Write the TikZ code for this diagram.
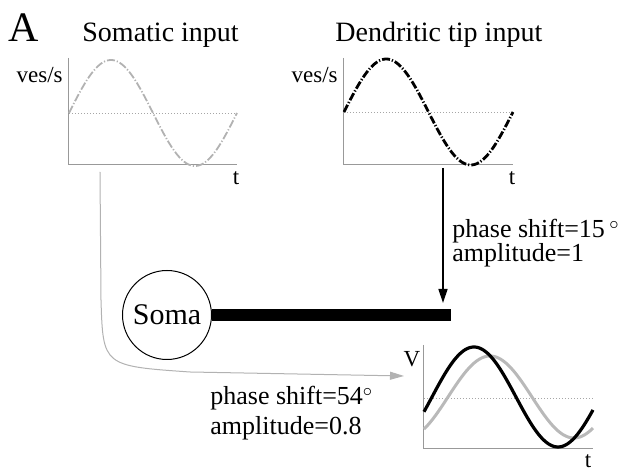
\documentclass[tikz,border=0pt]{standalone}
\usepackage{fontspec}
\setmainfont{Liberation Serif}
\usetikzlibrary{arrows.meta}

\begin{document}
\begin{tikzpicture}[x=0.5pt,y=-0.5pt,
        axisline/.style={draw=gray!80,line width=0.5pt},
        midline/.style={draw=gray!70,line width=0.4pt,dash pattern=on 0.5pt off 1pt},
        somawave/.style={draw=gray!60,line width=0.9pt,dash pattern=on 4pt off 1pt on 0.6pt off 1pt},
        tipwave/.style={draw=black,line width=1.4pt,dash pattern=on 4pt off 1pt on 0.6pt off 1pt},
        axlbl/.style={font=\fontsize{11.5}{13}\selectfont,inner sep=0pt},
        title/.style={font=\fontsize{14}{16}\selectfont,inner sep=0pt,anchor=base west},
        shiftlbl/.style={font=\fontsize{13}{15}\selectfont,inner sep=0pt,anchor=base west}]
    \useasboundingbox (0,0) rectangle (629,475);
    \node[anchor=base west,font=\fontsize{21}{24}\selectfont,inner sep=0pt] (panel) at (8,42) {A};
    \node[title] (somatitle) at (82,42) {Somatic input};
    \node[title] (tiptitle) at (335,42) {Dendritic tip input};

    % input rates
    \foreach \nm/\ox/\w/\y/\sty in {soma/69/168/113/somawave, tip/344/169/112/tipwave} {
            \draw[axisline] (\ox,58) -- (\ox,165) -- ({\ox+\w},165);
            \draw[midline] (\ox,\y) -- ({\ox+\w},\y);
            \draw[\sty] plot[variable=\ph,domain=0:\w,samples=100] ({\ox+\ph},{\y-53*sin(\ph/\w*360)});
            \node[axlbl,anchor=base east] (\nm rate) at ({\ox-6},83) {ves/s};
            \node[axlbl,anchor=base] (\nm time) at ({\ox+\w-1},185) {t};
        }

    % neuron
    \node[circle,draw,line width=0.5pt,minimum size=44.5pt,inner sep=0pt,
        font=\fontsize{15}{17}\selectfont] (soma) at (167,315) {Soma};
    \coordinate (dendtip) at (451,315);
    \draw[line width=6pt] (soma.east) -- (dendtip);

    % output voltage
    \draw[axisline] (424,345) -- (424,449) -- (593,449);
    \draw[midline] (424,398) -- (593,398);
    \draw[gray!55,line width=1.5pt] plot[domain=424:593,samples=100] ({\x},{397-41*cos((\x-490)/168*360)});
    \draw[line width=1.6pt] plot[domain=424:593,samples=100] ({\x},{397-50*cos((\x-474)/168*360)});
    \node[axlbl,anchor=base] (volt) at (412,367) {V};
    \node[axlbl,anchor=base] (outtime) at (588,468) {t};

    % connections
    \coordinate (tipstart) at (443,168);
    \coordinate (tiphit) at (443,303);
    \draw[line width=0.7pt,-{Triangle[length=7pt,width=4.5pt]}] (tipstart) -- (tiphit);
    \node[shiftlbl] (tipshift) at (452,238) {phase shift=15\,$^{\circ}$};
    \node[shiftlbl] (tipamp) at (452,262) {amplitude=1};

    \coordinate (somastart) at (100,172);
    \coordinate (outhit) at (404,376);
    \draw[gray!60,line width=0.5pt,-{Triangle[length=7pt,width=4pt]}]
        (somastart) -- (101,300) .. controls (103,366) .. (190,372) -- (outhit);
    \node[shiftlbl] (somashift) at (210,405) {phase shift=54$^{\circ}$};
    \node[shiftlbl] (somaamp) at (210,435) {amplitude=0.8};
\end{tikzpicture}
\end{document}
